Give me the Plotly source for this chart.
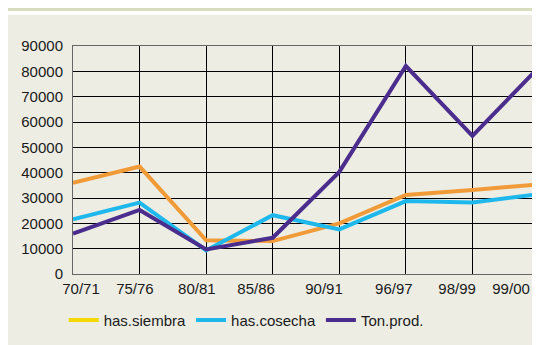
import plotly.graph_objects as go

# 数据
campanas = ['70/71', '75/76', '80/81', '85/86', '90/91', '96/97', '98/99', '99/00']
has_siembra = [36000, 42400, 13300, 13000, 20000, 31200, 33200, 35400]
has_cosecha = [21600, 28200, 9300, 23200, 17600, 28800, 28200, 31500]
ton_prod = [15900, 25300, 9700, 14300, 40300, 82100, 54500, 81700]

# 标签的位置（参考图中略有偏移）
label_pos = [0.12, 0.93, 1.86, 2.75, 3.77, 4.82, 5.77, 6.58]

idx = list(range(len(campanas)))
fondo = '#EDEDE4'

fig = go.Figure()

fig.add_trace(go.Scatter(x=idx, y=has_siembra, mode='lines', showlegend=False,
                         line=dict(color='#F09B38', width=4)))
fig.add_trace(go.Scatter(x=idx, y=has_cosecha, mode='lines', showlegend=False,
                         line=dict(color='#1FB8EC', width=4)))
fig.add_trace(go.Scatter(x=idx, y=ton_prod, mode='lines', showlegend=False,
                         line=dict(color='#4A2D8C', width=4)))

# 图例（参考图中 has.siembra 显示为黄色）
for nombre, color in [('has.siembra', '#F5D800'), ('has.cosecha', '#1FB8EC'), ('Ton.prod.', '#4A2D8C')]:
    fig.add_trace(go.Scatter(x=[None], y=[None], mode='lines', name=nombre,
                             line=dict(color=color, width=4)))

# 仅用于标签的第二个x轴
fig.add_trace(go.Scatter(x=[None], y=[None], xaxis='x2', showlegend=False, hoverinfo='skip'))

fig.update_layout(
    width=540, height=345,
    margin=dict(l=65, r=9, t=38, b=79, autoexpand=False),
    paper_bgcolor=fondo, plot_bgcolor=fondo,
    font=dict(family='Liberation Sans, Arial', size=15, color='#1a1a1a'),
    xaxis=dict(range=[0, 7], tickvals=idx, showticklabels=False, showgrid=True,
               gridcolor='#000000', gridwidth=1, zeroline=False, automargin=False,
               showline=True, linecolor='#666666', linewidth=1, mirror=True),
    xaxis2=dict(range=[0, 7], overlaying='x', side='bottom', tickvals=label_pos,
                ticktext=campanas, showgrid=False, zeroline=False, showline=False,
                automargin=False, tickfont=dict(size=15), ticklabelstandoff=4),
    yaxis=dict(range=[0, 90000], dtick=10000, tickformat='d', showgrid=True,
               gridcolor='#000000', gridwidth=1, zeroline=False, showline=True,
               automargin=False, linecolor='#666666', linewidth=1, mirror=True,
               tickfont=dict(size=15), ticklabelstandoff=6),
    legend=dict(orientation='h', x=-0.02, xanchor='left', y=-0.13, yanchor='top',
                bgcolor='rgba(0,0,0,0)', itemwidth=30, font=dict(size=15)),
    shapes=[
        dict(type='rect', xref='paper', yref='paper', x0=-0.2, x1=1.1, y0=1.154, y1=1.3,
             fillcolor='#D8DDBE', line=dict(width=0), layer='below'),
        dict(type='rect', xref='paper', yref='paper', x0=-0.2, x1=1.1, y0=1.136, y1=1.154,
             fillcolor='#FFFFFF', line=dict(width=0), layer='below'),
    ],
)

fig.write_html('out.html')
